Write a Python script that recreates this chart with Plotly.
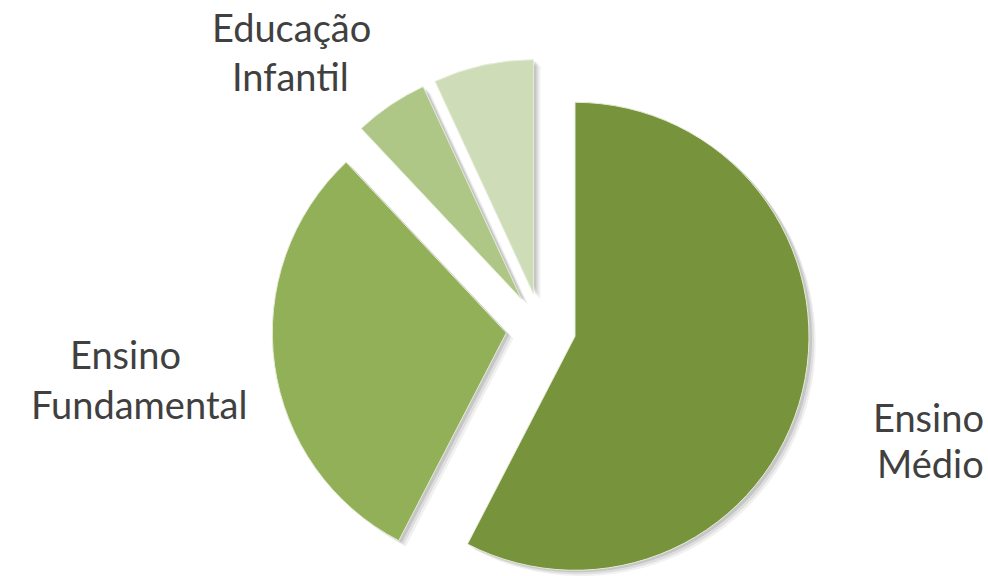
import math
import plotly.graph_objects as go

# ---- data ----
categories = ["Ensino Médio", "Ensino Fundamental", "Outra etapa", "Educação Infantil"]
label_lines = [["Ensino", "Médio"], ["Ensino", "Fundamental"], [], ["Educação", "Infantil"]]
values = [57.6, 30.4, 5.1, 6.9]
colors = ["#77933C", "#92B057", "#AEC786", "#CFDCB8"]

# ---- layout geometry (pixels) ----
W, H = 988, 576
CX, CY = 541, 328        # pie centre (px from top-left)
R = 234                  # pie radius px
PULL = 35                # explode distance px

fig = go.Figure()
total = sum(values)


def domain_for(cx, cy):
    yb = H - cy
    r = min(R, yb, H - yb, cx, W - cx)
    return dict(x=[(cx - r) / W, (cx + r) / W], y=[(yb - r) / H, (yb + r) / H])


cum = 0.0
offsets = []
for v in values:
    mid = (cum + v / 2) / total * 2 * math.pi
    offsets.append((PULL * math.sin(mid), -PULL * math.cos(mid)))
    cum += v

n = len(values)
# soft drop shadows first
for i in range(n):
    dx, dy = offsets[i]
    for sx, sy, a in [(7, 6, 0.07), (5, 4, 0.10), (3, 2, 0.14)]:
        cols = ["rgba(0,0,0,0)"] * n
        cols[i] = "rgba(60,60,60,%.2f)" % a
        fig.add_trace(go.Pie(
            labels=categories, values=values, sort=False, direction="clockwise",
            rotation=0, marker=dict(colors=cols, line=dict(width=0)),
            textinfo="none", hoverinfo="skip", showlegend=False,
            domain=domain_for(CX + dx + sx, CY + dy + sy),
        ))

for i in range(n):
    dx, dy = offsets[i]
    cols = ["rgba(0,0,0,0)"] * n
    cols[i] = colors[i]
    lw = [0] * n
    lw[i] = 1
    fig.add_trace(go.Pie(
        labels=categories, values=values, sort=False, direction="clockwise",
        rotation=0,
        marker=dict(colors=cols, line=dict(width=lw, color="#E4ECD6")),
        textinfo="none", hoverinfo="label+value", showlegend=False,
        domain=domain_for(CX + dx, CY + dy),
    ))

# per-line label centres (px from top-left)
label_pos = [[(928, 417), (930, 463)], [(125, 354), (139, 404)], [], [(291, 27), (290, 76)]]
for lines, poss in zip(label_lines, label_pos):
    for txt, pos in zip(lines, poss):
        fig.add_annotation(
            x=pos[0] / W, y=1 - pos[1] / H, xref="paper", yref="paper",
            text=txt, showarrow=False, xanchor="center", yanchor="middle",
            borderpad=0, font=dict(family="Lato", size=38, color="#404040"),
        )

fig.update_layout(
    width=W, height=H, autosize=False,
    margin=dict(l=0, r=0, t=0, b=0),
    paper_bgcolor="white", plot_bgcolor="white",
)

fig.write_html("out.html", config={"displayModeBar": False},
               post_script="document.body.style.margin='0';")
